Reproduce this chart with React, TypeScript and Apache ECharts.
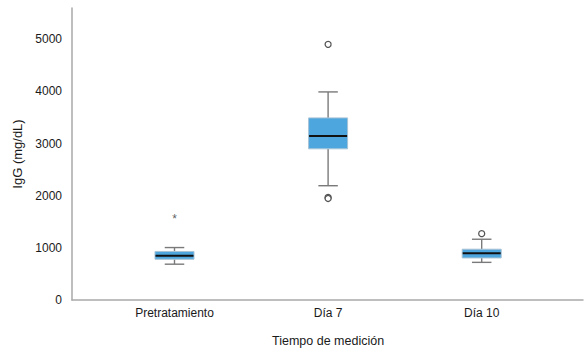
import React, { useEffect, useRef } from "react";
import * as echarts from "echarts";

const categories = ["Pretratamiento", "Día 7", "Día 10"];
const whiskerLow = [670, 2180, 705];
const q1 = [765, 2890, 790];
const medians = [830, 3135, 880];
const q3 = [915, 3485, 958];
const whiskerHigh = [990, 3985, 1150];
const outliers: [number, number][] = [
  [1, 4900],
  [1, 1955],
  [1, 1935],
  [2, 1258],
];
const extremes: [number, number][] = [[0, 1600]];
const yTicks = [0, 1000, 2000, 3000, 4000, 5000];

const FONT = "'Liberation Sans', Arial, Helvetica, sans-serif";
const TEXT = "#1a1a1a";
const AXIS = "#a9a9a9";

export default function App() {
  const ref = useRef<HTMLDivElement>(null);
  useEffect(() => {
    document.body.style.margin = "0";
    if (!ref.current) return;
    const chart = echarts.init(ref.current, undefined, { renderer: "svg" });
    const boxData = categories.map((_, i) => [
      i,
      whiskerLow[i],
      q1[i],
      medians[i],
      q3[i],
      whiskerHigh[i],
    ]);
    chart.setOption({
      animation: false,
      textStyle: { fontFamily: FONT },
      grid: [
        { left: 72, right: 2, top: 8, bottom: 52 },
        { left: 97.7, right: 26.5, top: 8, bottom: 52 },
      ],
      xAxis: [
        {
          type: "value",
          gridIndex: 0,
          min: 0,
          max: 1,
          axisLine: { show: true, lineStyle: { color: AXIS, width: 1.5 } },
          axisTick: { show: false },
          axisLabel: { show: false },
          splitLine: { show: false },
        },
        {
          type: "category",
          gridIndex: 1,
          data: categories,
          axisLine: { show: false },
          axisTick: { show: false },
          axisLabel: { fontSize: 12, margin: 8, color: TEXT, fontFamily: FONT },
          name: "Tiempo de medición",
          nameLocation: "middle",
          nameGap: 35,
          nameTextStyle: { fontSize: 12.5, color: TEXT, fontFamily: FONT },
        },
      ],
      yAxis: [
        {
          type: "value",
          gridIndex: 0,
          min: 0,
          max: 5600,
          interval: 1000,
          axisLine: { show: true, lineStyle: { color: AXIS, width: 1.5 } },
          axisTick: { show: false },
          splitLine: { show: false },
          axisLabel: {
            fontSize: 12,
            margin: 10,
            color: TEXT,
            fontFamily: FONT,
            showMaxLabel: false,
            formatter: (v: number) => (yTicks.includes(v) ? String(v) : ""),
          },
          name: "IgG (mg/dL)",
          nameLocation: "middle",
          nameGap: 42,
          nameTextStyle: { fontSize: 13, color: TEXT, fontFamily: FONT },
        },
        {
          type: "value",
          gridIndex: 1,
          min: 0,
          max: 5600,
          show: false,
        },
      ],
      series: [
        {
          type: "custom",
          xAxisIndex: 1,
          yAxisIndex: 1,
          data: boxData,
          renderItem: (params: any, api: any) => {
            const i = api.value(0);
            const pLo = api.coord([i, api.value(1)]);
            const pQ1 = api.coord([i, api.value(2)]);
            const pMed = api.coord([i, api.value(3)]);
            const pQ3 = api.coord([i, api.value(4)]);
            const pHi = api.coord([i, api.value(5)]);
            const band = api.size([1, 0])[0];
            const bw = band * 0.254;
            const cx = pMed[0];
            const capHalf = bw / 4;
            const whiskerStyle = { stroke: "#7a7a7a", lineWidth: 1.4 };
            return {
              type: "group",
              children: [
                {
                  type: "line",
                  shape: { x1: cx, y1: pLo[1], x2: cx, y2: pQ1[1] },
                  style: whiskerStyle,
                },
                {
                  type: "line",
                  shape: { x1: cx, y1: pQ3[1], x2: cx, y2: pHi[1] },
                  style: whiskerStyle,
                },
                {
                  type: "line",
                  shape: { x1: cx - capHalf, y1: pLo[1], x2: cx + capHalf, y2: pLo[1] },
                  style: whiskerStyle,
                },
                {
                  type: "line",
                  shape: { x1: cx - capHalf, y1: pHi[1], x2: cx + capHalf, y2: pHi[1] },
                  style: whiskerStyle,
                },
                {
                  type: "rect",
                  shape: { x: cx - bw / 2, y: pQ3[1], width: bw, height: pQ1[1] - pQ3[1] },
                  style: { fill: "#4ea6de", stroke: "#a7c3d6", lineWidth: 1 },
                },
                {
                  type: "line",
                  shape: { x1: cx - bw / 2 + 0.5, y1: pMed[1], x2: cx + bw / 2 - 0.5, y2: pMed[1] },
                  style: { stroke: "#111", lineWidth: 2 },
                },
              ],
            };
          },
        },
        {
          type: "scatter",
          xAxisIndex: 1,
          yAxisIndex: 1,
          data: outliers,
          symbol: "circle",
          symbolSize: 6,
          itemStyle: { color: "#ffffff", borderColor: "#555", borderWidth: 1.3, opacity: 1 },
        },
        {
          type: "scatter",
          xAxisIndex: 1,
          yAxisIndex: 1,
          data: extremes,
          symbol: "circle",
          symbolSize: 1,
          itemStyle: { color: "rgba(0,0,0,0)" },
          label: {
            show: true,
            position: "inside",
            formatter: "*",
            fontSize: 12,
            color: "#333",
            offset: [0, 3],
            fontFamily: FONT,
          },
        },
      ],
    });
    return () => chart.dispose();
  }, []);
  return <div ref={ref} style={{ width: 585, height: 352 }} />;
}
